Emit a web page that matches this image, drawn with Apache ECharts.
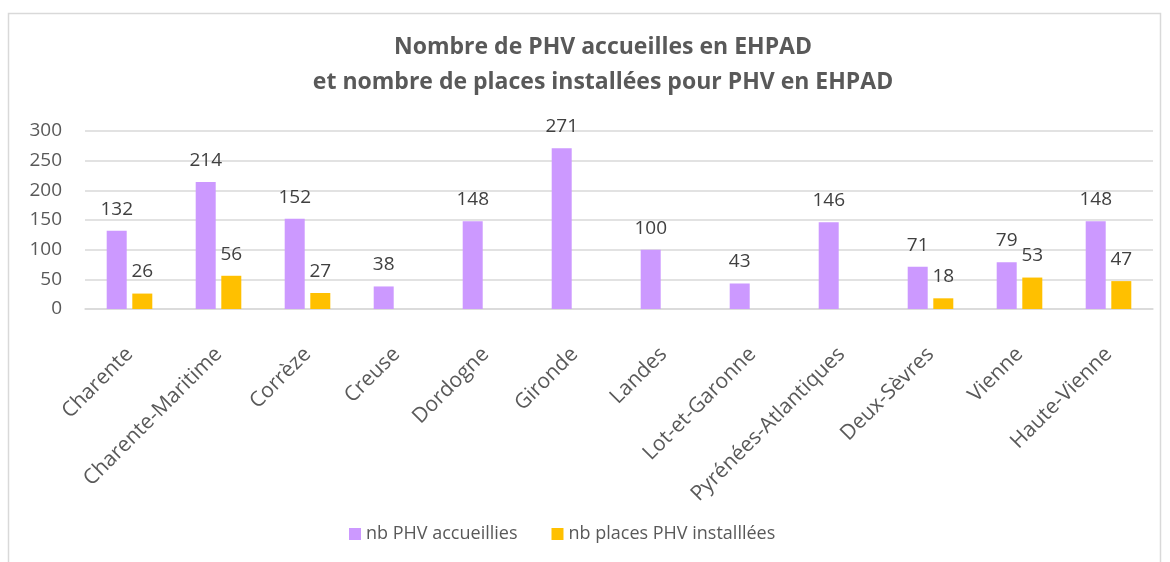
<!DOCTYPE html>
<html>
<head>
<meta charset="utf-8">
<script src="https://cdn.jsdelivr.net/npm/echarts@6/dist/echarts.min.js"></script>
<style>
  html, body { margin: 0; padding: 0; background: #fff; }
  #chart { width: 1170px; height: 562px; }
</style>
</head>
<body>
<div id="chart"></div>
<script>
// départements
const categories = ['Charente', 'Charente-Maritime', 'Corrèze', 'Creuse', 'Dordogne', 'Gironde',
  'Landes', 'Lot-et-Garonne', 'Pyrénées-Atlantiques', 'Deux-Sèvres', 'Vienne', 'Haute-Vienne'];
const phvAccueillis = [132, 214, 152, 38, 148, 271, 100, 43, 146, 71, 79, 148];
const placesInstallees = [26, 56, 27, null, null, null, null, null, null, 18, 53, 47];
const yTicks = [0, 50, 100, 150, 200, 250, 300];

const FONT = '"Open Sans", sans-serif';
const GREY = '#595959';

const chart = echarts.init(document.getElementById('chart'));

const labelStyle = {
  show: true,
  position: 'top',
  distance: 12,
  fontFamily: FONT,
  fontSize: 19,
  color: '#404040'
};

const option = {
  animation: false,
  graphic: [{
    type: 'rect',
    shape: { x: 8.5, y: 13.5, width: 1152, height: 560 },
    style: { fill: 'none', stroke: '#d9d9d9', lineWidth: 1.5 },
    silent: true
  }],
  title: {
    text: 'Nombre de PHV accueilles en EHPAD\net nombre de places installées pour PHV en EHPAD',
    left: 598,
    textAlign: 'center',
    top: 25,
    textStyle: {
      fontFamily: FONT,
      fontSize: 23,
      fontWeight: 'bold',
      color: GREY,
      lineHeight: 35
    }
  },
  legend: {
    bottom: 14,
    left: 344,
    itemWidth: 12,
    itemHeight: 12,
    itemGap: 34,
    icon: 'rect',
    textStyle: { fontFamily: FONT, fontSize: 18, color: GREY },
    data: ['nb PHV accueillies', 'nb places PHV installlées']
  },
  grid: { left: 85, right: 17, top: 131, bottom: 253, containLabel: false },
  xAxis: {
    type: 'category',
    data: categories,
    axisLine: { lineStyle: { color: '#d9d9d9', width: 1.5 } },
    axisTick: { show: false },
    axisLabel: {
      rotate: 45,
      interval: 0,
      margin: 42,
      fontFamily: FONT,
      fontSize: 21,
      color: GREY
    }
  },
  yAxis: {
    type: 'value',
    min: yTicks[0],
    max: yTicks[yTicks.length - 1],
    interval: 50,
    axisLine: { show: false },
    axisTick: { show: false },
    splitLine: { lineStyle: { color: '#d9d9d9', width: 1.5 } },
    axisLabel: { fontFamily: FONT, fontSize: 19, color: GREY, margin: 23 }
  },
  series: [
    {
      name: 'nb PHV accueillies',
      type: 'bar',
      data: phvAccueillis,
      barWidth: 20,
      barGap: '28%',
      itemStyle: { color: '#CC99FF' },
      label: labelStyle
    },
    {
      name: 'nb places PHV installlées',
      type: 'bar',
      data: placesInstallees,
      barWidth: 20,
      itemStyle: { color: '#FFC000' },
      label: labelStyle
    }
  ]
};

chart.setOption(option);
</script>
</body>
</html>
